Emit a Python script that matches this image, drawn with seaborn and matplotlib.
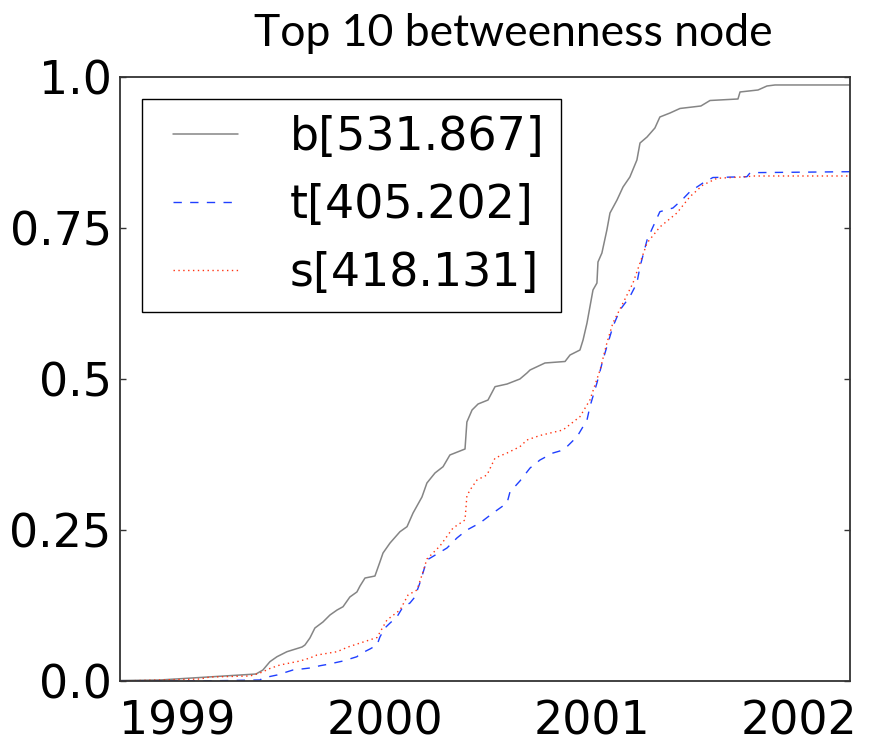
import matplotlib
matplotlib.use("Agg")
import matplotlib.pyplot as plt
from matplotlib.lines import Line2D
from matplotlib.legend_handler import HandlerLine2D
import numpy as np
import pandas as pd
import seaborn as sns

# Cumulative share of betweenness over time for the three top nodes
b_year = [1998.723, 1998.916, 1999.109, 1999.302, 1999.380, 1999.413, 1999.447, 1999.481,
          1999.529, 1999.602, 1999.616, 1999.640, 1999.664, 1999.703, 1999.737, 1999.771,
          1999.800, 1999.833, 1999.867, 1999.882, 1999.906, 1999.954, 1999.978, 1999.993,
          2000.027, 2000.075, 2000.109, 2000.138, 2000.181, 2000.205, 2000.244, 2000.283,
          2000.316, 2000.389, 2000.398, 2000.423, 2000.452, 2000.500, 2000.534, 2000.592,
          2000.654, 2000.688, 2000.703, 2000.775, 2000.872, 2000.896, 2000.944, 2000.959,
          2000.978, 2000.992, 2001.007, 2001.026, 2001.031, 2001.050, 2001.074, 2001.089,
          2001.123, 2001.152, 2001.185, 2001.219, 2001.234, 2001.268, 2001.306, 2001.330,
          2001.379, 2001.427, 2001.528, 2001.572, 2001.707, 2001.717, 2001.804, 2001.847,
          2001.886, 2002.248]
b_share = [0.0008, 0.0017, 0.0058, 0.0099, 0.0116, 0.0182, 0.0320, 0.0402,
           0.0485, 0.0563, 0.0596, 0.0712, 0.0877, 0.0977, 0.1093, 0.1175,
           0.1230, 0.1391, 0.1474, 0.1573, 0.1705, 0.1738, 0.1970, 0.2119,
           0.2285, 0.2472, 0.2555, 0.2781, 0.3046, 0.3278, 0.3444, 0.3548,
           0.3742, 0.3841, 0.4288, 0.4487, 0.4586, 0.4652, 0.4873, 0.4917,
           0.5000, 0.5099, 0.5149, 0.5265, 0.5290, 0.5397, 0.5480, 0.5646,
           0.5927, 0.6192, 0.6474, 0.6589, 0.6937, 0.7086, 0.7467, 0.7748,
           0.7964, 0.8179, 0.8344, 0.8626, 0.8907, 0.9007, 0.9156, 0.9338,
           0.9404, 0.9479, 0.9520, 0.9611, 0.9636, 0.9752, 0.9785, 0.9851,
           0.9868, 0.9868]

t_year = [1998.723, 1999.109, 1999.399, 1999.413, 1999.481, 1999.558, 1999.640, 1999.689,
          1999.722, 1999.800, 1999.867, 1999.882, 1999.930, 1999.964, 1999.978, 2000.002,
          2000.027, 2000.060, 2000.089, 2000.123, 2000.147, 2000.171, 2000.205, 2000.254,
          2000.302, 2000.350, 2000.398, 2000.461, 2000.524, 2000.592, 2000.606, 2000.654,
          2000.703, 2000.751, 2000.814, 2000.847, 2000.881, 2000.930, 2000.978, 2000.992,
          2001.026, 2001.055, 2001.074, 2001.103, 2001.137, 2001.185, 2001.219, 2001.234,
          2001.268, 2001.297, 2001.330, 2001.393, 2001.441, 2001.475, 2001.538, 2001.586,
          2001.750, 2001.766, 2002.248]
t_share = [0.0, 0.0, 0.0017, 0.0050, 0.0099, 0.0182, 0.0215, 0.0253,
           0.0273, 0.0331, 0.0402, 0.0447, 0.0530, 0.0596, 0.0728, 0.0877,
           0.0960, 0.1060, 0.1225, 0.1291, 0.1391, 0.1623, 0.2003, 0.2103,
           0.2202, 0.2368, 0.2500, 0.2616, 0.2781, 0.2947, 0.3129, 0.3311,
           0.3526, 0.3659, 0.3775, 0.3808, 0.3879, 0.4045, 0.4321, 0.4541,
           0.4934, 0.5315, 0.5535, 0.5866, 0.6142, 0.6363, 0.6589, 0.6859,
           0.7301, 0.7522, 0.7770, 0.7831, 0.7980, 0.8101, 0.8245, 0.8336,
           0.8349, 0.8416, 0.8432]

s_year = [1998.723, 1999.109, 1999.157, 1999.351, 1999.399, 1999.447, 1999.495, 1999.592,
          1999.640, 1999.674, 1999.771, 1999.824, 1999.964, 2000.012, 2000.075, 2000.114,
          2000.157, 2000.186, 2000.205, 2000.268, 2000.331, 2000.389, 2000.398, 2000.413,
          2000.447, 2000.495, 2000.534, 2000.592, 2000.654, 2000.688, 2000.751, 2000.862,
          2000.944, 2000.992, 2001.041, 2001.074, 2001.103, 2001.152, 2001.200, 2001.234,
          2001.268, 2001.330, 2001.412, 2001.475, 2001.538, 2001.606, 2001.750, 2001.779,
          2002.248]
s_share = [0.0, 0.0033, 0.0066, 0.0083, 0.0132, 0.0207, 0.0265, 0.0331,
           0.0381, 0.0430, 0.0485, 0.0563, 0.0720, 0.1010, 0.1175, 0.1424,
           0.1507, 0.1805, 0.2020, 0.2235, 0.2533, 0.2666, 0.3063, 0.3162,
           0.3328, 0.3411, 0.3692, 0.3775, 0.3879, 0.3990, 0.4065, 0.4156,
           0.4376, 0.4652, 0.5149, 0.5596, 0.5927, 0.6258, 0.6589, 0.6921,
           0.7252, 0.7517, 0.7748, 0.8018, 0.8212, 0.8323, 0.8349, 0.8361,
           0.8361]

series_labels = ["b[531.867]", "t[405.202]", "s[418.131]"]
year_ticks = [1999, 2000, 2001, 2002]
share_ticks = [0.0, 0.25, 0.5, 0.75, 1.0]
share_tick_labels = ["0.0", "0.25", "0.5", "0.75", "1.0"]
title_text = "Top 10 betweenness node"

sns.set_style("ticks", {"xtick.direction": "in", "ytick.direction": "in",
                        "axes.edgecolor": "#333333", "text.color": "black",
                        "xtick.color": "black", "ytick.color": "black"})
plt.rcParams["font.family"] = ["DejaVu Sans"]

fig = plt.figure(figsize=(8.74, 7.47), dpi=100)
ax = fig.add_axes([120 / 874, 1 - 681 / 747, 730 / 874, 604 / 747])

frames = [
    pd.DataFrame({"year": b_year, "share": b_share}),
    pd.DataFrame({"year": t_year, "share": t_share}),
    pd.DataFrame({"year": s_year, "share": s_share}),
]
styles = [
    dict(color="#858585", linewidth=1.1, linestyle="-"),
    dict(color="#1f3fff", linewidth=1.0, linestyle=(0, (6, 6))),
    dict(color="#ff3311", linewidth=1.0, linestyle=(0, (1, 2.5))),
]
for df, lab, st in zip(frames, series_labels, styles):
    sns.lineplot(data=df, x="year", y="share", ax=ax, label=lab,
                 estimator=None, sort=False, **st)

ax.set_xlim(1998.723, 2002.248)
ax.set_ylim(0, 1)
ax.set_xticks(year_ticks)
ax.set_xticklabels([str(y) for y in year_ticks])
ax.set_yticks(share_ticks)
ax.set_yticklabels(share_tick_labels)
ax.set_xlabel("")
ax.set_ylabel("")

for sp in ax.spines.values():
    sp.set_visible(True)
    sp.set_linewidth(1.3)
    sp.set_color("#333333")

ax.tick_params(axis="y", which="both", direction="in", left=True, right=True,
               length=4, width=1.0, color="#333333", labelsize=33, pad=6,
               labelcolor="black")
ax.tick_params(axis="x", which="both", length=0, labelsize=33, pad=13,
               labelcolor="black")

leg = ax.legend(loc="upper left", fontsize=33, frameon=True, fancybox=False,
                framealpha=1, edgecolor="black", borderpad=0.35,
                borderaxespad=0.48, handlelength=1.75, handletextpad=1.13,
                labelspacing=0.5,
                handler_map={Line2D: HandlerLine2D(xpad=0.33)})
leg.get_frame().set_linewidth(1.0)
for txt in leg.get_texts():
    txt.set_color("black")

fig.text(513 / 874, 1 - 46 / 747, title_text, ha="center", va="baseline",
         fontsize=32, color="black", family=["Lato", "DejaVu Sans"])

fig.savefig("out.png", dpi=100, facecolor="white")
